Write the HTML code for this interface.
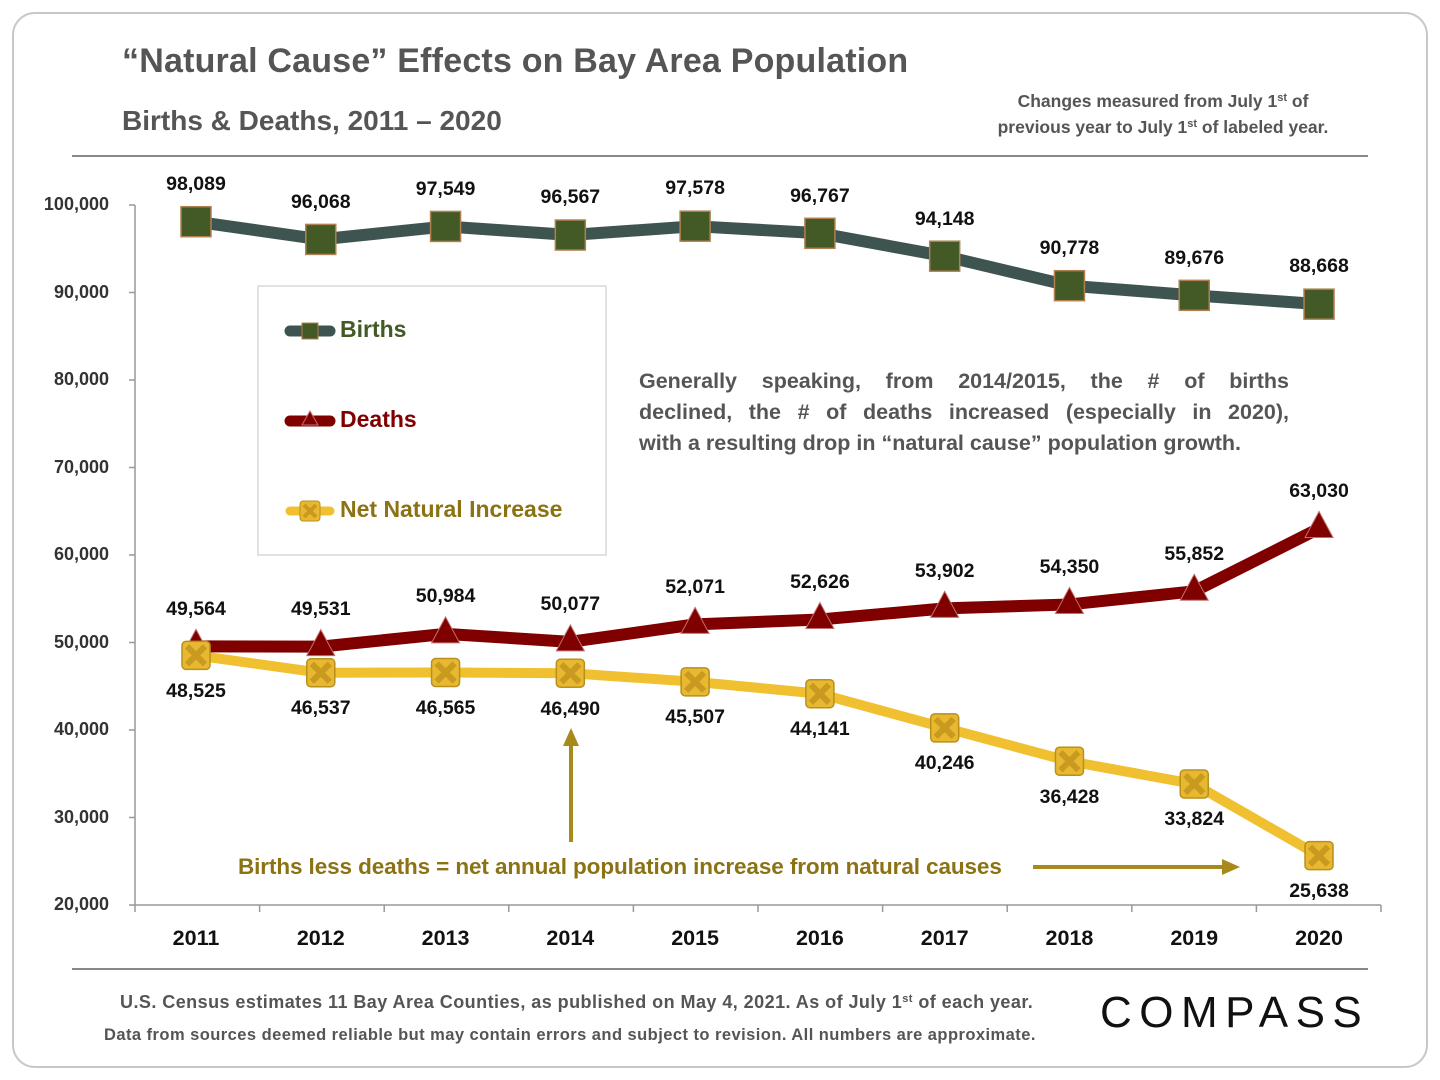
<!DOCTYPE html>
<html><head><meta charset="utf-8"><style>
body{margin:0;background:#fff;font-family:"Liberation Sans",sans-serif;}
#wrap{position:relative;width:1440px;height:1080px;overflow:hidden;}
.t{position:absolute;white-space:nowrap;font-weight:bold;}
sup{font-size:11px;line-height:0;vertical-align:6px;}
.jl{text-align:justify;text-align-last:justify;display:block;}
</style></head><body>
<div id="wrap">
<svg width="1440" height="1080" style="position:absolute;left:0;top:0">
<rect x="13" y="13" width="1414" height="1054" rx="22" fill="#fff" stroke="#c8c8c8" stroke-width="2"/>
<line x1="72" y1="156" x2="1368" y2="156" stroke="#888" stroke-width="2"/>
<line x1="72" y1="969" x2="1368" y2="969" stroke="#888" stroke-width="2"/>
<g id="axes"></g>
<rect x="258" y="286" width="348" height="269" fill="#fff" stroke="#d8d8d8" stroke-width="1.5"/>
<g id="marks"></g>
<line x1="571" y1="842" x2="571" y2="742" stroke="#a88a1a" stroke-width="4"/>
<polygon points="571,728 563,746 579,746" fill="#a88a1a"/>
<line x1="1033" y1="867" x2="1225" y2="867" stroke="#a88a1a" stroke-width="4"/>
<polygon points="1240,867 1222,859 1222,875" fill="#a88a1a"/>
</svg>
<div class="t" style="left:122px;top:42px;font-size:34px;letter-spacing:0.2px;color:#555;">“Natural Cause” Effects on Bay Area Population</div>
<div class="t" style="left:122px;top:105px;font-size:28px;color:#555;">Births &amp; Deaths, 2011 – 2020</div>
<div class="t" style="left:963px;top:88px;width:400px;text-align:center;font-size:17.5px;line-height:26px;color:#555;">Changes measured from July 1<sup>st</sup> of<br>previous year to July 1<sup>st</sup> of labeled year.</div>
<div class="t" style="left:639px;top:366px;width:650px;white-space:normal;font-size:21.5px;line-height:31px;color:#555;"><span class="jl">Generally speaking, from 2014/2015, the # of births</span><span class="jl">declined, the # of deaths increased (especially in 2020),</span><span style="display:block">with a resulting drop in “natural cause” population growth.</span></div>
<div class="t" style="left:238px;top:854px;font-size:22.5px;letter-spacing:-0.1px;color:#8b7314;">Births less deaths = net annual population increase from natural causes</div>
<div class="t" style="left:340px;top:316px;font-size:23px;color:#435a26;">Births</div>
<div class="t" style="left:340px;top:406px;font-size:23px;color:#800000;">Deaths</div>
<div class="t" style="left:340px;top:496px;font-size:23px;color:#8b7314;">Net Natural Increase</div>
<div class="t" style="left:120px;top:992px;font-size:18px;letter-spacing:0.45px;color:#555;">U.S. Census estimates 11 Bay Area Counties, as published on May 4, 2021. As of July 1<sup>st</sup> of each year.</div>
<div class="t" style="left:104px;top:1026px;font-size:16.5px;letter-spacing:0.45px;color:#555;">Data from sources deemed reliable but may contain errors and subject to revision. All numbers are approximate.</div>
<div class="t" style="left:1100px;top:988px;font-size:44px;font-weight:normal;letter-spacing:7.5px;color:#111;">COMPASS</div>
<div id="labels"></div>
</div>
<script>
const years=[2011,2012,2013,2014,2015,2016,2017,2018,2019,2020];
const births=[98089,96068,97549,96567,97578,96767,94148,90778,89676,88668];
const deaths=[49564,49531,50984,50077,52071,52626,53902,54350,55852,63030];
const net=[48525,46537,46565,46490,45507,44141,40246,36428,33824,25638];
const yTicks=[20000,30000,40000,50000,60000,70000,80000,90000,100000];
const NS="http://www.w3.org/2000/svg";
const x=i=>196+i*124.78;
const y=v=>905-(v-20000)*700/80000;
const axes=document.getElementById('axes'),marks=document.getElementById('marks'),labels=document.getElementById('labels');
function el(tag,attrs,parent){const e=document.createElementNS(NS,tag);for(const k in attrs)e.setAttribute(k,attrs[k]);parent.appendChild(e);return e;}
function lab(txt,cx,cy,size,color,anchor){const d=document.createElement('div');d.className='t';d.textContent=txt;d.style.fontSize=size+'px';d.style.color=color;d.style.top=(cy-size*0.6)+'px';if(anchor==='end'){d.style.right=(1440-cx)+'px';}else{d.style.left=cx+'px';d.style.transform='translateX(-50%)';}labels.appendChild(d);return d;}
let a=el('line',{x1:135,y1:905,x2:1381,y2:905,stroke:'#999','stroke-width':1.5},axes);

a=el('line',{x1:135,y1:205,x2:135,y2:905,stroke:'#999','stroke-width':1.5},axes);

yTicks.forEach(v=>{const t=el('line',{x1:129,y1:y(v),x2:135,y2:y(v),stroke:'#999','stroke-width':1.5},axes);

const d=lab(v.toLocaleString('en-US'),109,y(v),18,'#333','end');
});
for(let i=0;i<=years.length;i++){const tx=135+i*124.6;const t=el('line',{x1:tx,y1:905,x2:tx,y2:912,stroke:'#999','stroke-width':1.5},axes);
}
years.forEach((yr,i)=>{const d=lab(String(yr),x(i),939,21.5,'#111');
});
function line(arr,color,w,name){const p=el('polyline',{points:arr.map((v,i)=>x(i)+','+y(v)).join(' '),fill:'none',stroke:color,'stroke-width':w,'stroke-linejoin':'round'},marks);
}
line(births,'#3d5450',12,'births-line');
line(deaths,'#800000',12,'deaths-line');
line(net,'#f0c030',10,'net-line');
function sq(cx,cy,parent){return el('rect',{x:cx-15,y:cy-15,width:30,height:30,fill:'#435a26',stroke:'#b08050','stroke-width':1.5},parent);}
function tri(cx,cy,parent){return el('polygon',{points:`${cx},${cy-17} ${cx-14},${cy+9} ${cx+14},${cy+9}`,fill:'#800000',stroke:'#c07070','stroke-width':1},parent);}
function xm(cx,cy,parent){const g=el('g',{},parent);el('rect',{x:cx-14,y:cy-14,width:28,height:28,rx:4,fill:'#e8b830',stroke:'#b8901a','stroke-width':1.5},g);
el('path',{d:`M${cx-9},${cy-9}L${cx+9},${cy+9}M${cx+9},${cy-9}L${cx-9},${cy+9}`,stroke:'#c99a20','stroke-width':6},g);return g;}
births.forEach((v,i)=>{const m=sq(x(i),y(v),marks);
const d=lab(v.toLocaleString('en-US'),x(i),y(v)-37,19.5,'#111');});
deaths.forEach((v,i)=>{const m=tri(x(i),y(v),marks);
const d=lab(v.toLocaleString('en-US'),x(i),y(v)-37,19.5,'#111');});
net.forEach((v,i)=>{const m=xm(x(i),y(v),marks);
const d=lab(v.toLocaleString('en-US'),x(i),y(v)+36,19.5,'#111');});
let lg=el('line',{x1:290,y1:331,x2:330,y2:331,stroke:'#3d5450','stroke-width':11,'stroke-linecap':'round'},marks);

const s1=el('rect',{x:302,y:323,width:16,height:16,fill:'#435a26',stroke:'#b08050'},marks);

lg=el('line',{x1:290,y1:421,x2:330,y2:421,stroke:'#800000','stroke-width':11,'stroke-linecap':'round'},marks);

const s2=el('polygon',{points:'310,411 302,425 318,425',fill:'#800000',stroke:'#c07070'},marks);

lg=el('line',{x1:290,y1:511,x2:330,y2:511,stroke:'#f0c030','stroke-width':9,'stroke-linecap':'round'},marks);

const s3=el('g',{},marks);el('rect',{x:300,y:501,width:20,height:20,rx:3,fill:'#e8b830',stroke:'#b8901a'},s3);
el('path',{d:'M304,505L316,517M316,505L304,517',stroke:'#c99a20','stroke-width':4},s3);

</script>
</body></html>
